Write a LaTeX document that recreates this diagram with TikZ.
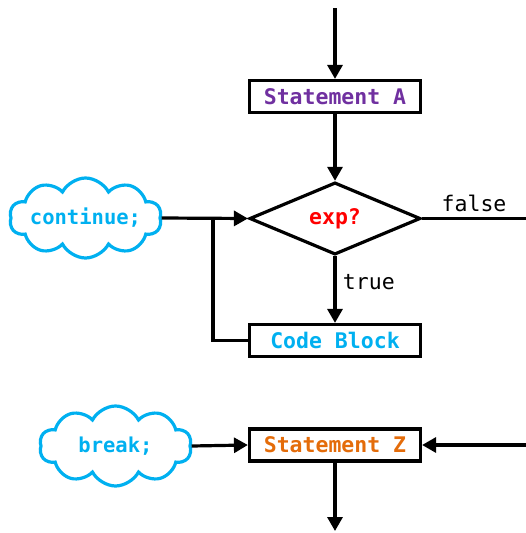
\documentclass[tikz,border=0pt]{standalone}
\usepackage{fontspec}
\setmonofont{DejaVu Sans Mono}
\usetikzlibrary{shapes.geometric,shapes.symbols,arrows.meta}
\definecolor{cloudblue}{RGB}{0,176,240}
\definecolor{stmtpurple}{RGB}{112,48,160}
\definecolor{stmtorange}{RGB}{228,108,10}

\begin{document}
\begin{tikzpicture} [x=1pt, y=-1pt, line width=3.2pt, >={Triangle[length=14pt,width=15pt]},
    stmt/.style={draw, inner sep=0pt, minimum width=171pt, minimum height=32pt, font=\ttfamily\bfseries\fontsize{21.5}{21.5}\selectfont},
    test/.style={draw, diamond, inner sep=0pt, minimum width=171pt, minimum height=66pt, text=red, font=\ttfamily\bfseries\fontsize{21.5}{21.5}\selectfont},
    jump/.style={draw=cloudblue, cloud, cloud puffs=10, cloud puff arc=125, cloud ignores aspect, inner sep=-2pt, minimum width=152pt, minimum height=80pt, text=cloudblue, font=\ttfamily\bfseries\fontsize{20.5}{20.5}\selectfont},
    tag/.style={font=\ttfamily\fontsize{21.5}{21.5}\selectfont}]
                  \useasboundingbox (0,0) rectangle (525,533);

                  % NODES
                  \node[stmt, text=stmtpurple] (stmtA) at (335,96.5) {Statement A};
                  \node[test] (exp) at (335,218.5) {exp?};
                  \node[stmt, text=cloudblue] (code) at (335,340.5) {Code Block};
                  \node[stmt, text=stmtorange] (stmtZ) at (335,445) {Statement Z};
                  \node[jump] (cont) at (85.5,218) {continue;};
                  \node[jump] (brk) at (115.5,446) {break;};

                  \coordinate (entry) at (335,8);
                  \coordinate (exit) at (335,531);
                  \coordinate (falseend) at (526,218.5);
                  \coordinate (zright) at (526,445);
                  \coordinate (join) at (213,218.5);

                  % LINES:
                  \draw[->] (entry) -- (stmtA.north);
                  \draw[->] (stmtA.south) -- (exp.north);
                  \draw (exp.east) -- (falseend) node[pos=0.5, anchor=south, tag, yshift=2pt]{false};
                  \draw[->] (exp.south) -- (code.north) node[midway, anchor=west, tag, xshift=3pt, yshift=7pt]{true};
                  \draw (code.west) -| (join);
                  \draw[->] (cont.east) -- (exp.west);
                  \draw[->] (brk.east) -- (stmtZ.west);
                  \draw[->] (zright) -- (stmtZ.east);
                  \draw[->] (stmtZ.south) -- (exit);
\end{tikzpicture}
\end{document}
